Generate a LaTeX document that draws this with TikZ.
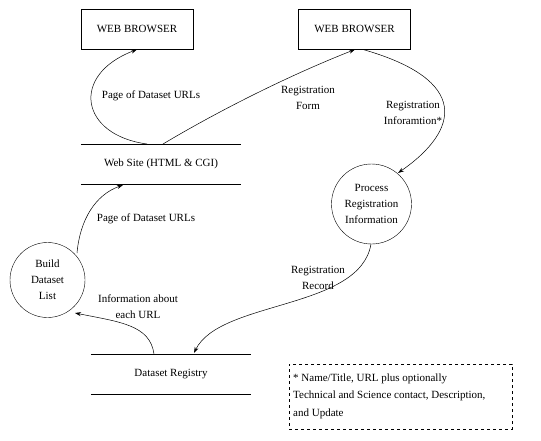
\documentclass[tikz,border=0pt]{standalone}
\usepackage{fontspec}
\setmainfont{Liberation Serif}
\usetikzlibrary{arrows.meta}
\begin{document}
\begin{tikzpicture}[x=1pt,y=-1pt,
  every node/.style={font=\fontsize{11}{16}\selectfont, inner sep=0pt},
  box/.style={draw, minimum width=112pt, minimum height=40pt},
  proc/.style={draw, circle, align=center},
  store/.style={minimum width=160pt, minimum height=40pt},
  lbl/.style={align=center},
  flow/.style={-{Stealth[length=6pt,width=4pt]}, line width=0.5pt}]
\useasboundingbox (0,0) rectangle (541,441);
\node[box] (b1) at (137,29) {WEB BROWSER};
\node[box] (b2) at (354.5,29) {WEB BROWSER};
\node[store] (ws) at (161,164) {Web Site (HTML \& CGI)};
\draw (ws.north west) -- (ws.north east) (ws.south west) -- (ws.south east);
\node[store] (dr) at (171,374) {Dataset Registry};
\draw (dr.north west) -- (dr.north east) (dr.south west) -- (dr.south east);
\node[proc, minimum size=80pt] (pr) at (371.5,204) {Process\\Registration\\Information};
\node[proc, minimum size=75pt] (bd) at (47.5,280) {Build\\Dataset\\List};
\node[draw, dashed, minimum width=223pt, minimum height=65pt] (note) at (400.5,396.5) {};
\node[anchor=west, align=left, font=\fontsize{11}{17.5}\selectfont] (notetext) at (293,396) {* Name/Title, URL plus optionally\\Technical and Science contact, Description,\\and Update};

\coordinate (ws1) at (147,144);
\coordinate (ws2) at (163,144);
\coordinate (ws3) at (123,185);
\coordinate (b1s) at (137,49.5);
\coordinate (b2s) at (355,49.5);
\coordinate (b2o) at (363,49.5);
\coordinate (prn) at (398,173);
\coordinate (prs) at (371,244);
\coordinate (bdt) at (77,253);
\coordinate (bdr) at (75,313);
\coordinate (dr1) at (154,354);
\coordinate (dr2) at (194,353);

\draw[flow] (ws1) .. controls (80,135) and (70,75) .. (b1s);
\draw[flow] (ws2) .. controls (220,110) and (290,75) .. (b2s);
\draw[flow] (b2o) .. controls (470,80) and (460,130) .. (prn);
\draw[flow] (bdt) .. controls (80,220) and (95,195) .. (ws3);
\draw[flow] (dr1) .. controls (150,325) and (120,322) .. (bdr);
\draw[flow] (prs) .. controls (360,310) and (220,300) .. (dr2);

\node[lbl] (l1) at (151,96) {Page of Dataset URLs};
\node[lbl] (l2) at (308,98) {Registration\\Form};
\node[lbl] (l3) at (413,113) {Registration\\Inforamtion*};
\node[lbl] (l4) at (146,219) {Page of Dataset URLs};
\node[lbl] (l5) at (138,307) {Information about\\each URL};
\node[lbl] (l6) at (318,278) {Registration\\Record};
\end{tikzpicture}
\end{document}
